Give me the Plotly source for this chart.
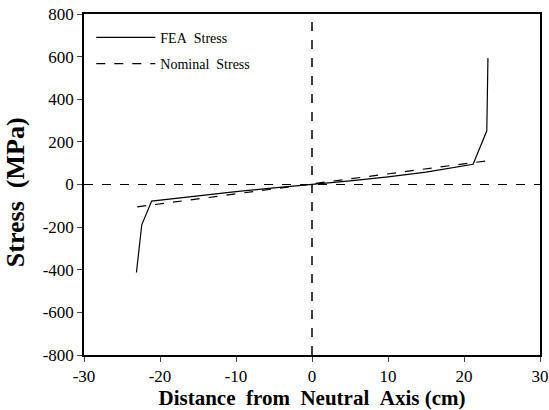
import plotly.graph_objects as go

fea_x = [-23.1, -22.4, -21.1, -15, -10, -5, 0, 5, 10, 15, 21.2, 23.0, 23.15]
fea_y = [-413, -189, -78, -52, -33, -16, 0, 17, 36, 58, 95, 252, 593]
nom_x = [-23, 23]
nom_y = [-105, 111]

x_ticks = [-30, -20, -10, 0, 10, 20, 30]
x_labels = ["-30", "-20", "-10", "0", "10", "20", "30"]
y_ticks = [-800, -600, -400, -200, 0, 200, 400, 600, 800]
y_labels = ["-800", "-600", "-400", "-200", "0", "200", "400", "600", "800"]

font = "Liberation Serif"
sp = "\u00a0\u00a0"

fig = go.Figure()
fig.add_trace(go.Scatter(x=fea_x, y=fea_y, mode="lines", name="FEA" + sp + "Stress",
                         line=dict(color="black", width=1.2), legendgroup="a"))
fig.add_trace(go.Scatter(x=nom_x, y=nom_y, mode="lines", name="Nominal" + sp + "Stress",
                         line=dict(color="black", width=1.2, dash="dash"), legendgroup="b"))

fig.add_shape(type="line", xref="paper", yref="y", x0=0, x1=1, y0=0, y1=0,
              line=dict(color="black", width=1.2, dash="dash"))
fig.add_shape(type="line", xref="x", yref="paper", x0=0, x1=0, y0=0, y1=1,
              line=dict(color="black", width=1.5, dash="dash"))

fig.add_annotation(text="<b>Stress" + sp + "(MPa)</b>", textangle=-90,
                   xref="paper", yref="paper", x=-0.151, y=0.478,
                   xanchor="center", yanchor="middle", showarrow=False,
                   font=dict(size=26, family=font, color="black"))

fig.update_layout(
    width=549, height=410,
    margin=dict(l=84, r=9, t=14, b=55, autoexpand=False),
    paper_bgcolor="white", plot_bgcolor="white",
    font=dict(family=font, color="black", size=15),
    showlegend=True,
    legend=dict(x=0.016, y=0.977, xanchor="left", yanchor="top",
                bgcolor="rgba(0,0,0,0)", font=dict(size=14, family=font),
                tracegroupgap=5, itemwidth=59),
    xaxis=dict(range=[-30, 30], tickvals=x_ticks, ticktext=x_labels,
               ticks="outside", ticklen=5, automargin=False,
               showline=True, linecolor="black", linewidth=1.5, mirror=True,
               showgrid=False, zeroline=False, tickfont=dict(size=17, family=font),
               title=dict(text="<b>Distance" + sp + "from" + sp + "Neutral" + sp + "Axis (cm)</b>",
                          font=dict(size=21, family=font), standoff=3)),
    yaxis=dict(range=[-800, 800], tickvals=y_ticks, ticktext=y_labels,
               ticks="outside", ticklen=5, automargin=False,
               showline=True, linecolor="black", linewidth=1.5, mirror=True,
               showgrid=False, zeroline=False, tickfont=dict(size=17, family=font)),
)

fig.write_html("out.html", config={"displayModeBar": False},
               post_script="document.body.style.margin='0';")
